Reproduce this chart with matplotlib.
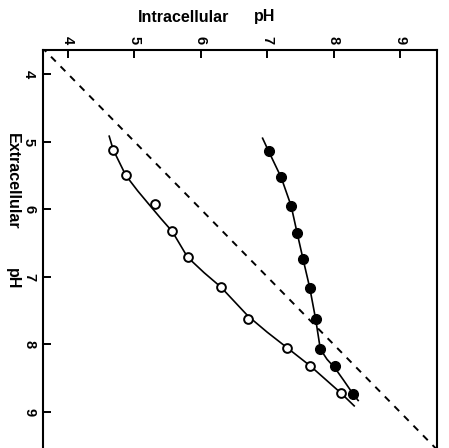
import matplotlib
matplotlib.use("Agg")
import matplotlib.pyplot as plt

plt.rcParams['font.family'] = ['Liberation Sans', 'DejaVu Sans']

# Data (intracellular pH, extracellular pH)
open_intra = [4.68, 4.87, 5.31, 5.57, 5.80, 6.30, 6.71, 7.30, 7.65, 8.11]
open_extra = [5.12, 5.50, 5.93, 6.33, 6.71, 7.15, 7.62, 8.05, 8.32, 8.72]
filled_intra = [7.02, 7.21, 7.36, 7.45, 7.54, 7.64, 7.73, 7.80, 8.02, 8.29]
filled_extra = [5.14, 5.53, 5.95, 6.35, 6.74, 7.16, 7.63, 8.07, 8.32, 8.73]

# Fitted curves as drawn in the picture
open_curve_intra = [4.62, 4.68, 4.87, 5.05, 5.22, 5.40, 5.57, 5.80, 6.05, 6.30, 6.71, 7.00, 7.30, 7.65, 8.11, 8.31]
open_curve_extra = [4.92, 5.12, 5.50, 5.73, 5.93, 6.14, 6.33, 6.71, 6.94, 7.15, 7.58, 7.82, 8.05, 8.32, 8.72, 8.91]
filled_curve_intra = [6.93, 7.02, 7.21, 7.36, 7.45, 7.54, 7.64, 7.73, 7.80, 7.90, 8.02, 8.15, 8.29, 8.37]
filled_curve_extra = [4.95, 5.14, 5.53, 5.95, 6.35, 6.74, 7.16, 7.63, 8.07, 8.22, 8.35, 8.53, 8.73, 8.83]

identity = [3.6, 9.6]
ticks = [4, 5, 6, 7, 8, 9]
tick_labels = ['4', '5', '6', '7', '8', '9']

W, H = 449, 448
fig = plt.figure(figsize=(W / 100, H / 100), dpi=100)
ax = fig.add_axes([43 / W, 0, (437 - 43) / W, 1 - 50 / H])

ax.plot(identity, identity, color='black', lw=1.4, ls=(0, (3.5, 3.5)))
ax.plot(open_curve_intra, open_curve_extra, color='black', lw=1.2)
ax.plot(filled_curve_intra, filled_curve_extra, color='black', lw=1.2)
ax.plot(open_intra, open_extra, 'o', ms=6.3, mfc='white', mec='black', mew=1.4)
ax.plot(filled_intra, filled_extra, 'o', ms=7, mfc='black', mec='black')

ax.set_xlim(3.623, 9.557)
ax.set_ylim(9.533, 3.645)

ax.xaxis.tick_top()
ax.set_xticks(ticks)
ax.set_xticklabels(tick_labels, rotation=-90, fontsize=10.5, fontweight='bold')
ax.set_yticks(ticks)
ax.set_yticklabels(tick_labels, rotation=-90, fontsize=10.5, fontweight='bold', va='center')
ax.tick_params(axis='x', direction='in', length=6, width=1.4, pad=4)
ax.tick_params(axis='y', direction='in', length=6, width=1.4, pad=5)

for s in ['top', 'left', 'right']:
    ax.spines[s].set_linewidth(1.5)
ax.spines['bottom'].set_visible(False)

fig.text(183.5 / W, 1 - 17 / H, 'Intracellular', ha='center', va='center',
         fontsize=11.5, fontweight='bold')
fig.text(264.5 / W, 1 - 17 / H, 'pH', ha='center', va='center',
         fontsize=11.5, fontweight='bold')
fig.text(12 / W, 1 - 181.5 / H, 'Extracellular', ha='center', va='center',
         fontsize=11.5, fontweight='bold', rotation=-90)
fig.text(12 / W, 1 - 278.5 / H, 'pH', ha='center', va='center',
         fontsize=11.5, fontweight='bold', rotation=-90)

fig.savefig('out.png', dpi=100)
